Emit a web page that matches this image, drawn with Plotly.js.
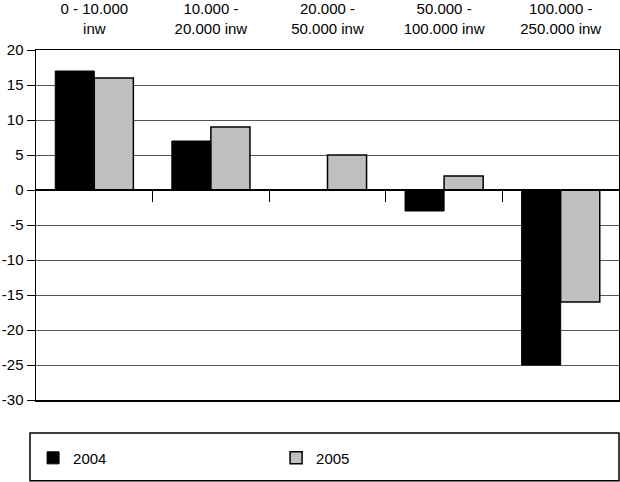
<!DOCTYPE html>
<html>
<head>
<meta charset="utf-8">
<script src="https://cdn.plot.ly/plotly-3.0.1.min.js"></script>
<style>html,body{margin:0;padding:0;background:#fff;}#chart{width:620px;height:482px;}</style>
</head>
<body>
<div id="chart"></div>
<script>
const categories = [0, 1, 2, 3, 4];
const categoryLabels = ['0 - 10.000<br>inw', '10.000 -<br>20.000 inw', '20.000 -<br>50.000 inw', '50.000 -<br>100.000 inw', '100.000 -<br>250.000 inw'];
const values2004 = [17, 7, 0, -3, -25];
const values2005 = [16, 9, 5, 2, -16];
const yTicks = [-30, -25, -20, -15, -10, -5, 0, 5, 10, 15, 20];
const yTickText = ['-30', '-25', '-20', '-15', '-10', '-5', '0', '5', '10', '15', '20'];
const boundaryTicks = [0.5, 1.5, 2.5, 3.5];

const font = {family: 'Liberation Sans, Arial, sans-serif', color: '#000'};

const traces = [
  {type: 'bar', name: '2004', x: categories, y: values2004,
   marker: {color: '#000000', line: {color: '#000', width: 1}}},
  {type: 'bar', name: '2005', x: categories, y: values2005,
   marker: {color: '#c0c0c0', line: {color: '#000', width: 1.5}}},
  {type: 'scatter', x: [0.5], y: [0], xaxis: 'x2', yaxis: 'y', mode: 'none', showlegend: false, hoverinfo: 'skip'}
];

const layout = {
  width: 620, height: 482,
  margin: {l: 36, r: 1, t: 50, b: 82},
  paper_bgcolor: '#fff', plot_bgcolor: '#fff',
  font: Object.assign({size: 15}, font),
  barmode: 'group', bargap: 0.33, bargroupgap: 0,
  showlegend: true,
  xaxis: {
    side: 'top', range: [-0.5, 4.5], tickvals: categories, ticktext: categoryLabels,
    showgrid: false, zeroline: false, ticks: '', showline: true, linecolor: '#000', linewidth: 1.5,
    mirror: true, tickfont: Object.assign({size: 15}, font), automargin: false, ticklabelstandoff: 9
  },
  xaxis2: {
    overlaying: 'x', anchor: 'free', position: 0.6, range: [-0.5, 4.5],
    tickvals: boundaryTicks, ticks: 'outside', ticklen: 11, tickwidth: 1, tickcolor: '#000',
    showticklabels: false, showgrid: false, zeroline: false, showline: true, linecolor: '#000', linewidth: 2
  },
  yaxis: {
    range: [-30, 20], tickvals: yTicks, ticktext: yTickText, ticks: 'outside', ticklen: 8, tickcolor: '#000', tickwidth: 1,
    showgrid: true, gridcolor: '#555', gridwidth: 1, zeroline: false,
    showline: true, linecolor: '#000', linewidth: 1.5, mirror: true,
    tickfont: Object.assign({size: 15}, font), automargin: false
  },
  legend: {
    orientation: 'h', x: -0.005, xanchor: 'left', y: -0.166, yanchor: 'middle',
    borderwidth: 0, bgcolor: 'rgba(0,0,0,0)',
    entrywidth: 198, itemwidth: 30,
    font: Object.assign({size: 15}, font)
  },
  shapes: [
    {type: 'rect', xref: 'paper', yref: 'paper', x0: -0.0103, x1: 1.0, y0: -0.231, y1: -0.094,
     line: {color: '#000', width: 1.5}, fillcolor: 'rgba(0,0,0,0)', layer: 'below'}
  ]
};

Plotly.newPlot('chart', traces, layout, {displayModeBar: false, staticPlot: true});
</script>
</body>
</html>
